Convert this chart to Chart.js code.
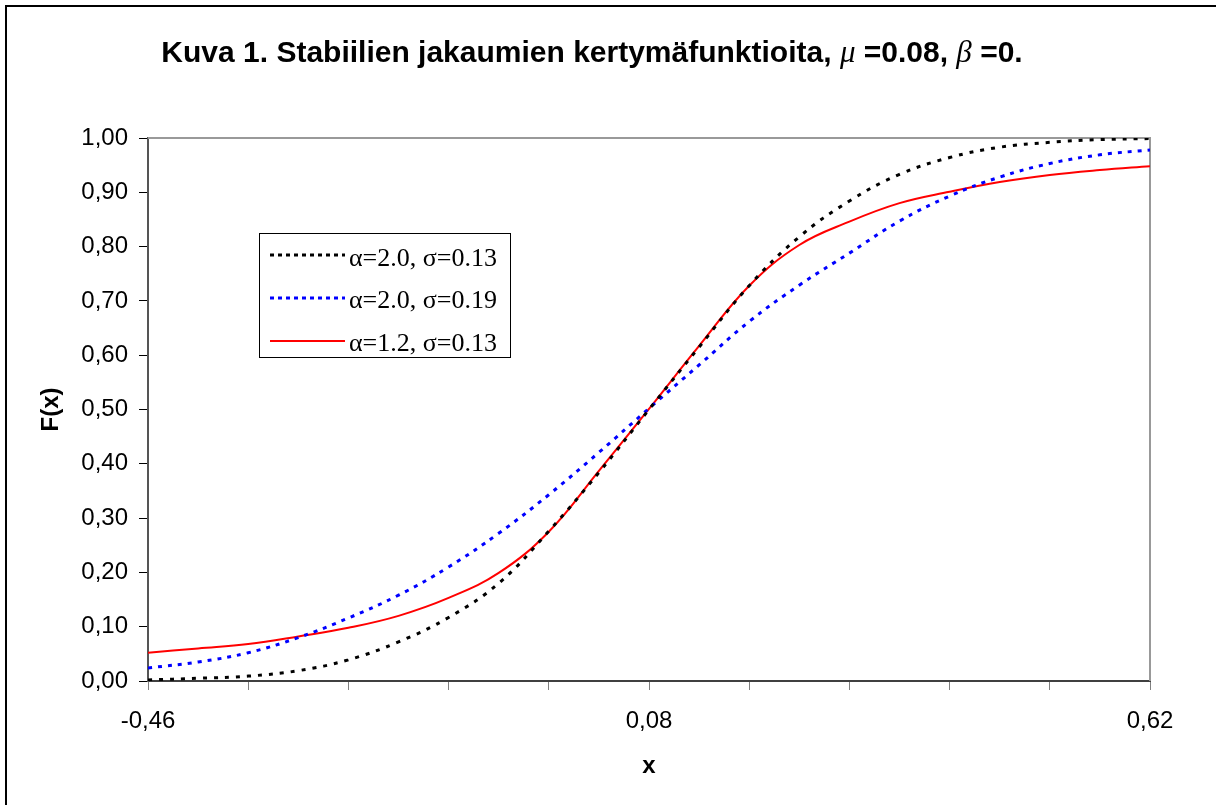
<!DOCTYPE html>
<html lang="fi">
<head>
<meta charset="utf-8">
<title>Kuva 1</title>
<script src="https://cdn.jsdelivr.net/npm/chart.js@4.4.0/dist/chart.umd.min.js"></script>
<style>
  html, body { margin: 0; padding: 0; background: #fff; overflow: hidden; }
  #wrap { position: relative; width: 1216px; height: 805px; }
</style>
</head>
<body>
<div id="wrap"><canvas id="kuva1" width="1216" height="805"></canvas></div>
<script>
// x-pisteet (askel 0.054) ja kuvasta luetut kertymäfunktion arvot
const xArvot = [-0.46, -0.406, -0.352, -0.298, -0.244, -0.19, -0.136, -0.082, -0.028, 0.026,
                0.08, 0.134, 0.188, 0.242, 0.296, 0.35, 0.404, 0.458, 0.512, 0.566, 0.62];
const sarja1 = [0.002, 0.005, 0.009, 0.019, 0.039, 0.072, 0.117, 0.180, 0.276, 0.384,
                0.500, 0.615, 0.728, 0.818, 0.884, 0.933, 0.964, 0.983, 0.992, 0.997, 0.999];
const sarja2 = [0.024, 0.035, 0.052, 0.080, 0.116, 0.158, 0.210, 0.272, 0.343, 0.421,
                0.502, 0.582, 0.662, 0.729, 0.788, 0.847, 0.893, 0.928, 0.953, 0.969, 0.978];
const sarja3 = [0.052, 0.060, 0.068, 0.082, 0.098, 0.120, 0.153, 0.199, 0.275, 0.387,
                0.501, 0.617, 0.728, 0.803, 0.846, 0.880, 0.901, 0.919, 0.932, 0.941, 0.948];
const sarjaNimet = ['α=2.0, σ=0.13', 'α=2.0, σ=0.19', 'α=1.2, σ=0.13'];

// akselien jaot
const xJaot = [-0.46, -0.352, -0.244, -0.136, -0.028, 0.08, 0.188, 0.296, 0.404, 0.512, 0.62];
const xJakoNimet = ['-0,46', '', '', '', '', '0,08', '', '', '', '', '0,62'];
const yJaot = [0, 0.1, 0.2, 0.3, 0.4, 0.5, 0.6, 0.7, 0.8, 0.9, 1.0];

const SANS = '"Liberation Sans", Arial, sans-serif';
const SERIF = '"Liberation Serif", "Times New Roman", serif';

function pisteet(arvot) {
    return xArvot.map((x, i) => ({ x: x, y: arvot[i] }));
}

// otsikko, akselien nimet, kehys ja selite piirretään itse
const koristeet = {
    id: 'koristeet',
    beforeDraw(chart) {
        const c = chart.ctx;
        c.save();
        c.strokeStyle = '#000';
        c.lineWidth = 2;
        c.beginPath();
        c.moveTo(6, 805);
        c.lineTo(6, 6);
        c.lineTo(1216, 6);
        c.stroke();
        c.restore();
    },
    beforeDatasetsDraw(chart) {
        const c = chart.ctx;
        const a = chart.chartArea;
        c.save();
        c.strokeStyle = '#999';
        c.lineWidth = 2;
        c.beginPath();
        c.moveTo(a.left, a.top);
        c.lineTo(a.right, a.top);
        c.lineTo(a.right, a.bottom);
        c.stroke();
        c.restore();
    },
    afterDraw(chart) {
        const c = chart.ctx;
        const a = chart.chartArea;
        c.save();
        c.fillStyle = '#000';

        // otsikko
        const lihava = 'bold 30px ' + SANS;
        const kursiivi = 'italic 31px ' + SERIF;
        const osat = [
            ['Kuva 1. Stabiilien jakaumien kertymäfunktioita, ', lihava],
            ['μ', kursiivi],
            [' =0.08, ', lihava],
            ['β', kursiivi],
            [' =0.', lihava]
        ];
        let leveys = 0;
        osat.forEach(o => { c.font = o[1]; leveys += c.measureText(o[0]).width; });
        let x = 592 - leveys / 2;
        c.textBaseline = 'alphabetic';
        c.textAlign = 'left';
        osat.forEach(o => {
            c.font = o[1];
            c.fillText(o[0], x, 62);
            x += c.measureText(o[0]).width;
        });

        // akselien nimet
        c.font = 'bold 24px ' + SANS;
        c.textAlign = 'center';
        c.textBaseline = 'middle';
        c.fillText('x', (a.left + a.right) / 2, 766);
        c.translate(51, (a.top + a.bottom) / 2);
        c.rotate(-Math.PI / 2);
        c.fillText('F(x)', 0, 0);
        c.setTransform(1, 0, 0, 1, 0, 0);

        // selite
        c.fillStyle = '#fff';
        c.fillRect(259, 233, 251, 124);
        c.strokeStyle = '#000';
        c.lineWidth = 1;
        c.strokeRect(259.5, 233.5, 251, 124);
        const viivat = [255, 298, 341];
        const tekstit = [266, 308, 351];
        chart.data.datasets.forEach((ds, i) => {
            c.strokeStyle = ds.borderColor;
            c.lineWidth = ds.borderWidth;
            c.setLineDash(ds.borderDash.length ? [4, 4] : []);
            c.beginPath();
            c.moveTo(270, viivat[i]);
            c.lineTo(345, viivat[i]);
            c.stroke();
            c.setLineDash([]);
            c.fillStyle = '#000';
            c.font = '26px ' + SERIF;
            c.textAlign = 'left';
            c.textBaseline = 'alphabetic';
            c.fillText(ds.label, 349, tekstit[i]);
        });
        c.restore();
    }
};

new Chart(document.getElementById('kuva1'), {
    type: 'line',
    data: {
        datasets: [
            {
                label: sarjaNimet[0],
                data: pisteet(sarja1),
                borderColor: '#000000',
                borderWidth: 3,
                borderDash: [4, 7]
            },
            {
                label: sarjaNimet[1],
                data: pisteet(sarja2),
                borderColor: '#0000ff',
                borderWidth: 3,
                borderDash: [4, 6]
            },
            {
                label: sarjaNimet[2],
                data: pisteet(sarja3),
                borderColor: '#ff0000',
                borderWidth: 2,
                borderDash: []
            }
        ]
    },
    options: {
        responsive: false,
        animation: false,
        layout: { padding: { left: 0, top: 138, right: 66, bottom: 0 } },
        elements: {
            point: { radius: 0 },
            line: { tension: 0.4, fill: false }
        },
        plugins: {
            legend: { display: false },
            title: { display: false },
            tooltip: { enabled: false }
        },
        scales: {
            x: {
                type: 'linear',
                min: -0.46,
                max: 0.62,
                afterBuildTicks: (akseli) => {
                    akseli.ticks = xJaot.map(v => ({ value: v }));
                },
                afterFit: (akseli) => { akseli.height = 124; },
                grid: { drawOnChartArea: false, drawTicks: true, tickLength: 9, color: '#808080', lineWidth: 1 },
                border: { color: '#404040', width: 2 },
                ticks: {
                    autoSkip: false,
                    maxRotation: 0,
                    padding: 17,
                    color: '#000',
                    font: { family: SANS, size: 24 },
                    callback: (v, i) => xJakoNimet[i]
                }
            },
            y: {
                min: 0,
                max: 1,
                afterBuildTicks: (akseli) => {
                    akseli.ticks = yJaot.map(v => ({ value: v }));
                },
                afterFit: (akseli) => { akseli.width = 148; },
                grid: { drawOnChartArea: false, drawTicks: true, tickLength: 9, color: '#000', lineWidth: 1 },
                border: { color: '#555', width: 2 },
                ticks: {
                    padding: 11,
                    color: '#000',
                    font: { family: SANS, size: 24 },
                    callback: (v) => v.toFixed(2).replace('.', ',')
                }
            }
        }
    },
    plugins: [koristeet]
});
</script>
</body>
</html>
